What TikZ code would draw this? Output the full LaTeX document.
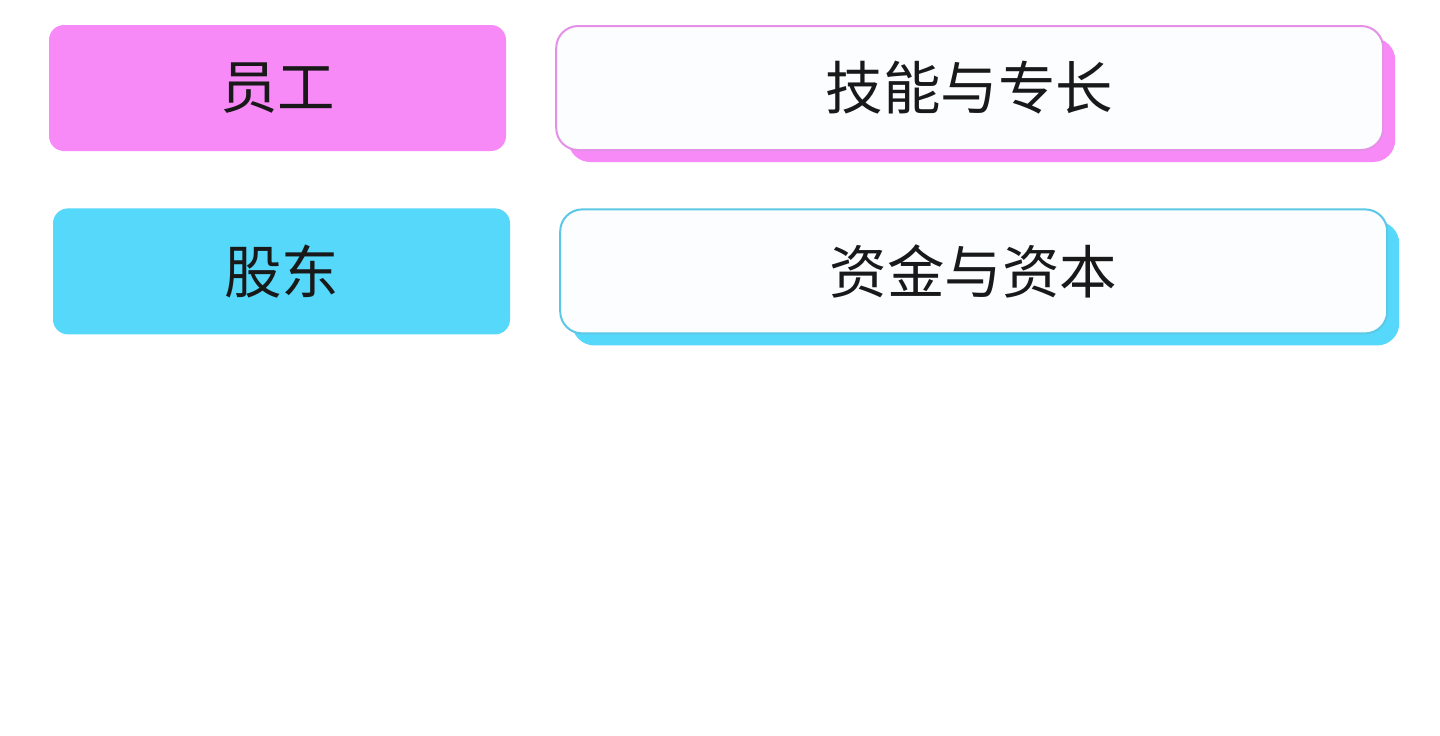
\documentclass[tikz,border=0pt]{standalone}
\usepackage{fontspec}
\newfontfamily\cjk{Noto Sans CJK SC}
\usetikzlibrary{positioning,shadows}

\definecolor{rolepink}{HTML}{F78AF7}
\definecolor{rolecyan}{HTML}{55D8FA}
\definecolor{edgepink}{HTML}{E490E6}
\definecolor{edgecyan}{HTML}{5CC8E6}
\definecolor{cardwhite}{HTML}{FBFDFE}

\begin{document}
\begin{tikzpicture}[x=1pt, y=-1pt, node distance = 57pt and 49pt,
  nodes = {font=\cjk\fontsize{57.5}{64}\selectfont, text=black!90, inner sep=0pt},
  role/.style = {minimum width=457pt, minimum height=126pt,
    rounded corners=15pt},
  card/.style 2 args = {draw=#1, line width=2pt, fill=cardwhite,
    minimum width=827pt, minimum height=124pt, rounded corners=22pt,
    drop shadow={shadow xshift=12pt, shadow yshift=-12pt,
      fill=#2, opacity=1}}
  ]
  \fill[white] (0,0) rectangle (1440,736);
  \useasboundingbox (0,0) rectangle (1440,736);

  \node (staff) [role, fill=rolepink] at (277.5,88) {员工};
  \node (skill) [card={edgepink}{rolepink}, right=49pt of staff] {技能与专长};
  \node (holder) [role, fill=rolecyan, below=57pt of staff, xshift=4pt] {股东};
  \node (fund) [card={edgecyan}{rolecyan}, right=49pt of holder] {资金与资本};
\end{tikzpicture}
\end{document}
